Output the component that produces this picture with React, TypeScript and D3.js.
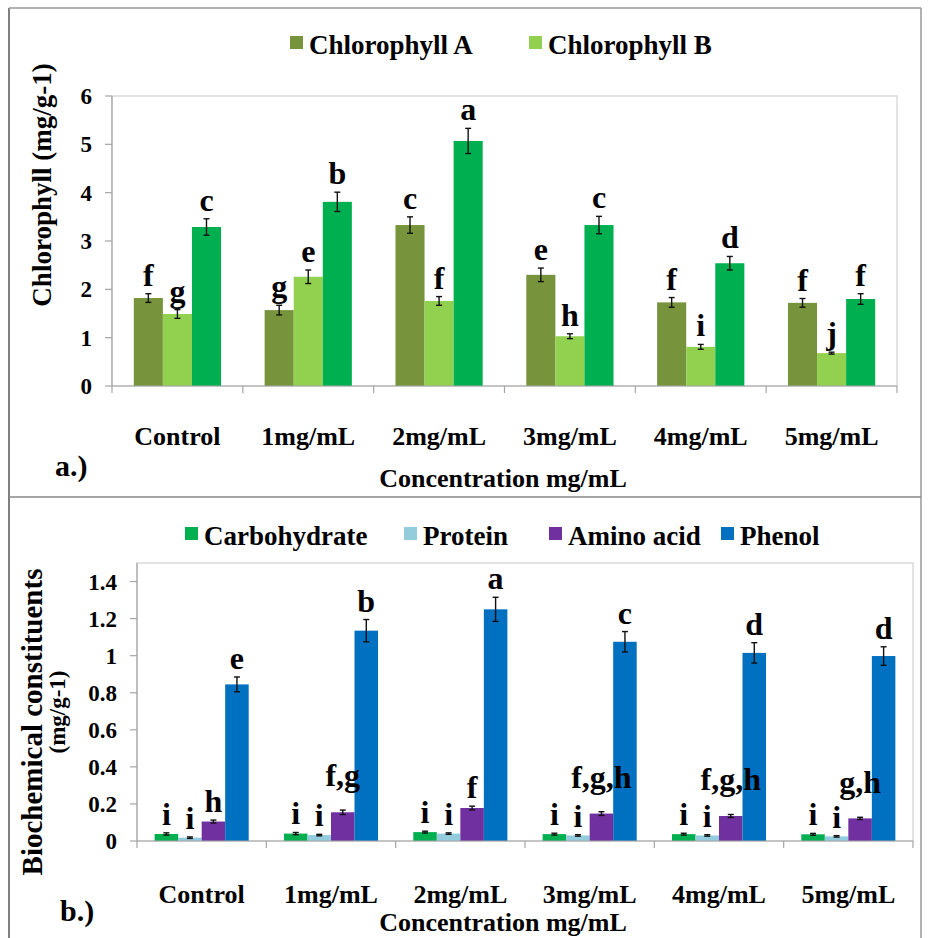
import React from "react";
import * as d3 from "d3";

const categories = ["Control", "1mg/mL", "2mg/mL", "3mg/mL", "4mg/mL", "5mg/mL"];

// panel a.) chlorophyll
const chlA = [1.82, 1.57, 3.33, 2.3, 1.73, 1.72];
const chlAErr = [0.09, 0.1, 0.17, 0.14, 0.1, 0.09];
const chlALetters = ["f", "g", "c", "e", "f", "f"];
const chlB = [1.49, 2.26, 1.76, 1.03, 0.81, 0.68];
const chlBErr = [0.09, 0.14, 0.09, 0.05, 0.05, 0.02];
const chlBLetters = ["g", "e", "f", "h", "i", "j"];
const chlTotal = [3.29, 3.81, 5.07, 3.33, 2.54, 1.8];
const chlTotalErr = [0.17, 0.2, 0.26, 0.18, 0.14, 0.11];
const chlTotalLetters = ["c", "b", "a", "c", "d", "f"];
const chlTicks = [0, 1, 2, 3, 4, 5, 6];

// panel b.) biochemical constituents
const carb = [0.038, 0.04, 0.048, 0.037, 0.037, 0.036];
const carbErr = [0.006, 0.006, 0.005, 0.005, 0.005, 0.005];
const carbLetters = ["i", "i", "i", "i", "i", "i"];
const protein = [0.018, 0.032, 0.04, 0.03, 0.03, 0.025];
const proteinErr = [0.004, 0.004, 0.004, 0.004, 0.004, 0.004];
const proteinLetters = ["i", "i", "i", "i", "i", "i"];
const amino = [0.105, 0.155, 0.178, 0.148, 0.135, 0.122];
const aminoErr = [0.008, 0.012, 0.01, 0.01, 0.008, 0.006];
const aminoLetters = ["h", "f,g", "f", "f,g,h", "f,g,h", "g,h"];
const phenol = [0.845, 1.135, 1.25, 1.075, 1.015, 0.998];
const phenolErr = [0.04, 0.06, 0.065, 0.055, 0.055, 0.05];
const phenolLetters = ["e", "b", "a", "c", "d", "d"];
const bioTicks = [0, 0.2, 0.4, 0.6, 0.8, 1, 1.2, 1.4];

const FONT = "Liberation Serif, DejaVu Serif, Noto Serif, FreeSerif, serif";
const txt = { fontFamily: FONT, fontWeight: 700 as const };

type Series = {
  name: string;
  color: string;
  values: number[];
  errors: number[];
  letters: string[];
};

const seriesA: Series[] = [
  { name: "Chlorophyll A", color: "#77933C", values: chlA, errors: chlAErr, letters: chlALetters },
  { name: "Chlorophyll B", color: "#92D050", values: chlB, errors: chlBErr, letters: chlBLetters },
  { name: "Total", color: "#00B050", values: chlTotal, errors: chlTotalErr, letters: chlTotalLetters },
];
const legendA = seriesA.slice(0, 2);

const seriesB: Series[] = [
  { name: "Carbohydrate", color: "#00B050", values: carb, errors: carbErr, letters: carbLetters },
  { name: "Protein", color: "#93CDDD", values: protein, errors: proteinErr, letters: proteinLetters },
  { name: "Amino acid", color: "#7030A0", values: amino, errors: aminoErr, letters: aminoLetters },
  { name: "Phenol", color: "#0070C0", values: phenol, errors: phenolErr, letters: phenolLetters },
];

function Panel({
  series, left, right, top, bottom, yMax, ticks, labelY,
}: {
  series: Series[]; left: number; right: number; top: number; bottom: number;
  yMax: number; ticks: number[]; labelY: number;
}) {
  const x = d3.scaleBand().domain(categories).range([left, right]).paddingInner(0).paddingOuter(0);
  const inner = d3
    .scaleBand()
    .domain(series.map((s) => s.name))
    .range([0, x.bandwidth()])
    .paddingInner(0)
    .paddingOuter(0.75);
  const y = d3.scaleLinear().domain([0, yMax]).range([bottom, top]);
  const bw = inner.bandwidth();
  const cells = series.flatMap((s) =>
    categories.map((c, i) => ({
      s, c, i,
      bx: x(c)! + inner(s.name)!,
      v: s.values[i],
      e: s.errors[i],
    }))
  );

  return (
    <g>
      <rect x={left} y={top} width={right - left} height={bottom - top} fill="none" stroke="#d0d0d0" strokeWidth={1.2} />
      <line x1={left} x2={left} y1={top} y2={bottom} stroke="#a6a6a6" strokeWidth={1.2} />
      {ticks.map((t) => (
        <g key={t}>
          <line x1={left - 7} x2={left} y1={y(t)} y2={y(t)} stroke="#a6a6a6" strokeWidth={1.2} />
          <text x={left - 20} y={y(t)} dy="0.35em" textAnchor="end" fontSize={23} style={txt}>
            {String(t)}
          </text>
        </g>
      ))}
      {categories.map((c) => (
        <line key={c} x1={x(c)!} x2={x(c)!} y1={bottom} y2={bottom + 7} stroke="#a6a6a6" strokeWidth={1.2} />
      ))}
      <line x1={right} x2={right} y1={bottom} y2={bottom + 7} stroke="#a6a6a6" strokeWidth={1.2} />
      {cells.map(({ s, c, bx, v }) => (
        <rect key={s.name + c} x={bx} y={y(v)} width={bw} height={bottom - y(v)} fill={s.color} />
      ))}
      <line x1={left} x2={right} y1={bottom} y2={bottom} stroke="#a6a6a6" strokeWidth={1.2} />
      {cells.map(({ s, c, i, bx, v, e }) => {
        const cx = bx + bw / 2;
        const ly = y(v + e) - 8 - (s.letters[i].includes(",") ? 16 : 0);
        return (
          <g key={"e" + s.name + c}>
            <line x1={cx} x2={cx} y1={y(v + e)} y2={y(v - e)} stroke="#111" strokeWidth={1.4} />
            <line x1={cx - 3} x2={cx + 3} y1={y(v + e)} y2={y(v + e)} stroke="#111" strokeWidth={1.4} />
            <line x1={cx - 3} x2={cx + 3} y1={y(v - e)} y2={y(v - e)} stroke="#111" strokeWidth={1.4} />
            <text x={cx} y={ly} textAnchor="middle" fontSize={32} style={txt}>
              {s.letters[i]}
            </text>
          </g>
        );
      })}
      {categories.map((c) => (
        <text key={c} x={x(c)! + x.bandwidth() / 2} y={labelY} textAnchor="middle" fontSize={26} style={txt}>
          {c}
        </text>
      ))}
    </g>
  );
}

function Legend({ items, xs, y }: { items: Series[]; xs: number[]; y: number }) {
  return (
    <g>
      {items.map((s, i) => (
        <g key={s.name}>
          <rect x={xs[i]} y={y - 18} width={13} height={13} fill={s.color} />
          <text x={xs[i] + 19} y={y} fontSize={27} style={txt}>
            {s.name}
          </text>
        </g>
      ))}
    </g>
  );
}

export default function App() {
  return (
    <svg width={928} height={938} style={{ position: "absolute", left: 0, top: 0, background: "#fff" }}>
      <rect x={0} y={0} width={928} height={938} fill="#fff" />
      {/* frame */}
      <line x1={9} x2={9} y1={8} y2={938} stroke="#555" strokeWidth={1.5} />
      <line x1={9} x2={921} y1={8} y2={8} stroke="#999" strokeWidth={1.5} />
      <line x1={921} x2={921} y1={8} y2={938} stroke="#999" strokeWidth={1.5} />
      <line x1={9} x2={921} y1={497} y2={497} stroke="#888" strokeWidth={1.5} />

      {/* a.) */}
      <Legend items={legendA} xs={[290, 529]} y={54} />
      <Panel series={seriesA} left={112} right={897} top={96} bottom={386} yMax={6} ticks={chlTicks} labelY={445} />
      <text transform="translate(51,185) rotate(-90)" textAnchor="middle" fontSize={27} style={txt}>
        Chlorophyll (mg/g-1)
      </text>
      <text x={55} y={476} fontSize={30} style={txt}>a.)</text>
      <text x={503} y={487} textAnchor="middle" fontSize={26} style={txt}>Concentration mg/mL</text>

      {/* b.) */}
      <Legend items={seriesB} xs={[185, 404, 549, 721]} y={545} />
      <Panel series={seriesB} left={137} right={913} top={563} bottom={841} yMax={1.5} ticks={bioTicks} labelY={903} />
      <text transform="translate(42,722) rotate(-90)" textAnchor="middle" fontSize={29} style={txt}>
        Biochemical constituents
      </text>
      <text transform="translate(65,712) rotate(-90)" textAnchor="middle" fontSize={23} style={txt}>
        (mg/g-1)
      </text>
      <text x={60} y={921} fontSize={30} style={txt}>b.)</text>
      <text x={503} y={931} textAnchor="middle" fontSize={26} style={txt}>Concentration mg/mL</text>
    </svg>
  );
}
